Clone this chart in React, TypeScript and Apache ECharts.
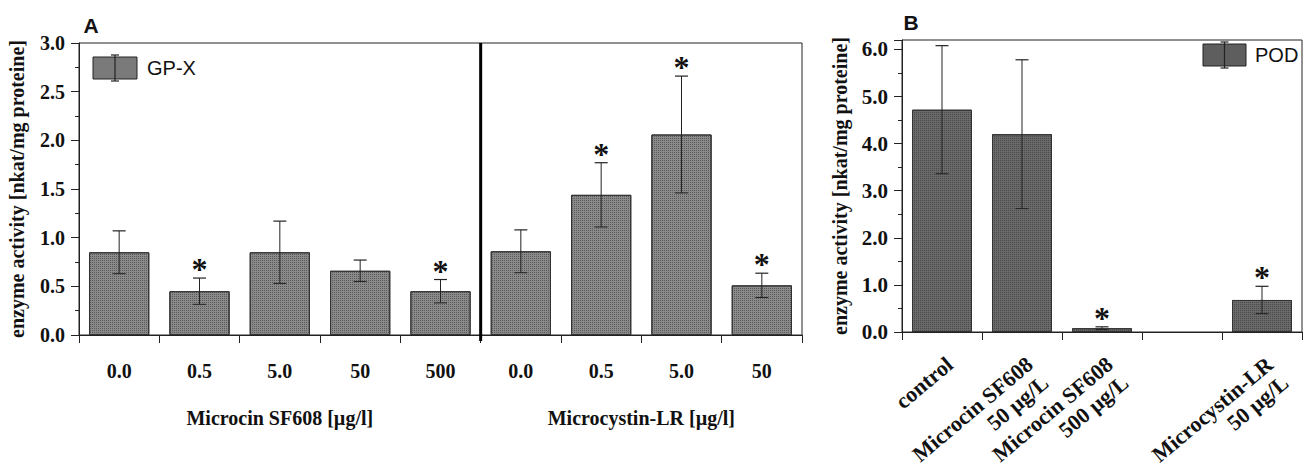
import React, { useEffect, useRef } from "react";
import * as echarts from "echarts";

const catsA = ["0.0", "0.5", "5.0", "50", "500", "0.0", "0.5", "5.0", "50"];
const gpxMean = [0.85, 0.45, 0.85, 0.66, 0.45, 0.86, 1.44, 2.06, 0.51];
const gpxSd = [0.22, 0.135, 0.32, 0.11, 0.12, 0.22, 0.33, 0.6, 0.125];
const gpxSig = [0, 1, 0, 0, 1, 0, 1, 1, 1];
const groupTitles = ["Microcin SF608 [µg/l]", "Microcystin-LR [µg/l]"];
const groupSizes = [5, 4];

const catsB = [
  "control",
  "Microcin SF608\n50 µg/L",
  "Microcin SF608\n500 µg/L",
  "",
  "Microcystin-LR\n50 µg/L",
];
const podMean: (number | null)[] = [4.72, 4.2, 0.08, null, 0.68];
const podSd: (number | null)[] = [1.36, 1.58, 0.03, null, 0.29];
const podSig = [0, 0, 1, 0, 1];

const yName = "enzyme activity [nkat/mg proteine]";
const SERIF = "'Liberation Serif', 'Times New Roman', serif";
const SANS = "'Liberation Sans', Arial, sans-serif";
const LINE = "#222";

function errData(mean: (number | null)[], sd: (number | null)[], sig: number[]) {
  const out: number[][] = [];
  mean.forEach((m, i) => {
    if (m == null) return;
    out.push([i, m, sd[i] as number, sig[i]]);
  });
  return out;
}

function makeRender() {
  return (params: any, api: any) => {
    const i = api.value(0);
    const m = api.value(1);
    const s = api.value(2);
    const sig = api.value(3);
    const top = api.coord([i, m + s]);
    const bot = api.coord([i, m - s]);
    const x = top[0];
    const hw = 6.5;
    const children: any[] = [
      { type: "line", shape: { x1: x, y1: top[1], x2: x, y2: bot[1] }, style: { stroke: LINE, lineWidth: 1 } },
      { type: "line", shape: { x1: x - hw, y1: top[1], x2: x + hw, y2: top[1] }, style: { stroke: LINE, lineWidth: 1.2 } },
      { type: "line", shape: { x1: x - hw, y1: bot[1], x2: x + hw, y2: bot[1] }, style: { stroke: LINE, lineWidth: 1 } },
    ];
    if (sig) {
      children.push({
        type: "text",
        x: x,
        y: top[1] - 9,
        style: {
          text: "*",
          fill: "#111",
          font: `bold 32px ${SERIF}`,
          textAlign: "center",
          textVerticalAlign: "middle",
        },
      });
    }
    return { type: "group", children };
  };
}

function legendGlyph(x: number, y: number, w: number, h: number, color: string) {
  const cx = x + w / 2;
  return [
    { type: "rect", shape: { x, y, width: w, height: h }, style: { fill: color, stroke: LINE, lineWidth: 1 } },
    { type: "line", shape: { x1: cx, y1: y - 2, x2: cx, y2: y + h + 2 }, style: { stroke: LINE, lineWidth: 1.2 } },
    { type: "line", shape: { x1: cx - 4, y1: y - 2, x2: cx + 4, y2: y - 2 }, style: { stroke: LINE, lineWidth: 1.2 } },
    { type: "line", shape: { x1: cx - 4, y1: y + h + 2, x2: cx + 4, y2: y + h + 2 }, style: { stroke: LINE, lineWidth: 1.2 } },
  ];
}

export default function App() {
  const ref = useRef<HTMLDivElement>(null);
  useEffect(() => {
    if (!ref.current) return;
    const chart = echarts.init(ref.current, undefined, { renderer: "svg" });
    const colA = "#8a8a8a";
    const colB = "#6a6a6a";
    const legA = "#7a7a7a";
    const legB = "#5e5e5e";
    const dotDecal = {
      symbol: "rect",
      symbolSize: 1,
      dashArrayX: [1, 1],
      dashArrayY: [1, 1],
      rotation: 0,
      color: "rgba(30,30,30,0.45)",
    };
    const yAxisCommon = (min: number, max: number, interval: number, fs: number) => ({
      type: "value",
      min,
      max,
      interval,
      name: yName,
      nameLocation: "middle",
      nameGap: 52,
      nameTextStyle: { fontFamily: SERIF, fontWeight: "bold", fontSize: 20, color: "#111" },
      axisLine: { show: true, lineStyle: { color: LINE, width: 1 } },
      axisTick: { show: true, inside: false, length: 8, lineStyle: { color: LINE } },
      minorTick: { show: true, splitNumber: 2, length: 4, lineStyle: { color: LINE } },
      splitLine: { show: false },
      axisLabel: {
        margin: 14,
        fontFamily: SERIF,
        fontWeight: "bold",
        fontSize: fs,
        color: "#111",
        showMaxLabel: max === 3,
        formatter: (v: number) => v.toFixed(1),
      },
    });
    const gridA = { left: 79, right: 508, top: 43, bottom: 131 };
    const baseGraphic = [
      { type: "text", x: 91, y: 25, style: { text: "A", font: `bold 21px ${SANS}`, fill: "#111", textAlign: "center", textVerticalAlign: "middle" } },
      { type: "text", x: 911, y: 22, style: { text: "B", font: `bold 21px ${SANS}`, fill: "#111", textAlign: "center", textVerticalAlign: "middle" } },
      ...legendGlyph(93, 57, 44, 22, legA),
      { type: "text", x: 147, y: 68, style: { text: "GP-X", font: `20px ${SANS}`, fill: "#111", textAlign: "left", textVerticalAlign: "middle" } },
      ...legendGlyph(1203, 44, 43, 22, legB),
      { type: "text", x: 1255, y: 55, style: { text: "POD", font: `20px ${SANS}`, fill: "#111", textAlign: "left", textVerticalAlign: "middle" } },
    ];
    chart.setOption({
      animation: false,
      backgroundColor: "#fff",
      grid: [
        { ...gridA, show: true, borderColor: LINE, borderWidth: 1, containLabel: false, outerBoundsMode: "none" },
        { left: 902, right: 8, top: 40, bottom: 134, show: true, borderColor: LINE, borderWidth: 1, containLabel: false, outerBoundsMode: "none" },
      ],
      xAxis: [
        {
          type: "category",
          gridIndex: 0,
          data: catsA,
          boundaryGap: true,
          axisLine: { show: true, lineStyle: { color: LINE } },
          axisTick: { show: true, length: 8, lineStyle: { color: LINE } },
          splitLine: { show: false },
          axisLabel: {
            margin: 26,
            fontFamily: SERIF,
            fontWeight: "bold",
            fontSize: 20,
            color: "#111",
          },
        },
        {
          type: "category",
          gridIndex: 1,
          data: catsB,
          boundaryGap: true,
          axisLine: { show: true, lineStyle: { color: LINE } },
          axisTick: { show: true, length: 8, lineStyle: { color: LINE } },
          splitLine: { show: false },
          axisLabel: {
            interval: 0,
            rotate: 40,
            margin: 20,
            verticalAlign: "top",
            fontFamily: SERIF,
            fontWeight: "bold",
            fontSize: 22,
            lineHeight: 24,
            color: "#111",
          },
        },
      ],
      yAxis: [
        { ...yAxisCommon(0, 3, 0.5, 20), gridIndex: 0 },
        { ...yAxisCommon(0, 6.2, 1, 21), gridIndex: 1 },
      ],
      series: [
        {
          type: "bar",
          xAxisIndex: 0,
          yAxisIndex: 0,
          data: gpxMean,
          barWidth: "75%",
          itemStyle: { color: colA, borderColor: "#333", borderWidth: 1, decal: dotDecal },
          z: 2,
        },
        {
          type: "custom",
          xAxisIndex: 0,
          yAxisIndex: 0,
          data: errData(gpxMean, gpxSd, gpxSig),
          encode: { x: 0, y: 1 },
          renderItem: makeRender(),
          z: 5,
        },
        {
          type: "bar",
          xAxisIndex: 1,
          yAxisIndex: 1,
          data: podMean,
          barWidth: "75%",
          itemStyle: { color: colB, borderColor: "#333", borderWidth: 1, decal: dotDecal },
          z: 2,
        },
        {
          type: "custom",
          xAxisIndex: 1,
          yAxisIndex: 1,
          data: errData(podMean, podSd, podSig),
          encode: { x: 0, y: 1 },
          renderItem: makeRender(),
          z: 5,
        },
      ],
      graphic: baseGraphic,
    });

    // divider and group titles placed from the category axis scale
    const px = (i: number) => chart.convertToPixel({ xAxisIndex: 0 }, i) as number;
    const band = px(1) - px(0);
    const boundary = (px(groupSizes[0] - 1) + px(groupSizes[0])) / 2;
    const yTop = chart.convertToPixel({ yAxisIndex: 0 }, 3) as number;
    const yBot = chart.convertToPixel({ yAxisIndex: 0 }, 0) as number;
    const start0 = px(0) - band / 2;
    const c0 = start0 + (groupSizes[0] * band) / 2;
    const c1 = boundary + (groupSizes[1] * band) / 2;
    chart.setOption(
      {
        graphic: [
          ...baseGraphic,
          { type: "line", z: 10, shape: { x1: boundary, y1: yTop, x2: boundary, y2: yBot + 6 }, style: { stroke: "#000", lineWidth: 3 } },
          { type: "text", x: c0, y: 418, style: { text: groupTitles[0], font: `bold 20px ${SERIF}`, fill: "#111", textAlign: "center", textVerticalAlign: "middle" } },
          { type: "text", x: c1, y: 418, style: { text: groupTitles[1], font: `bold 20px ${SERIF}`, fill: "#111", textAlign: "center", textVerticalAlign: "middle" } },
        ],
      },
      { replaceMerge: ["graphic"] }
    );
    return () => chart.dispose();
  }, []);
  return <div ref={ref} style={{ position: "fixed", left: 0, top: 0, width: 1310, height: 466 }} />;
}
